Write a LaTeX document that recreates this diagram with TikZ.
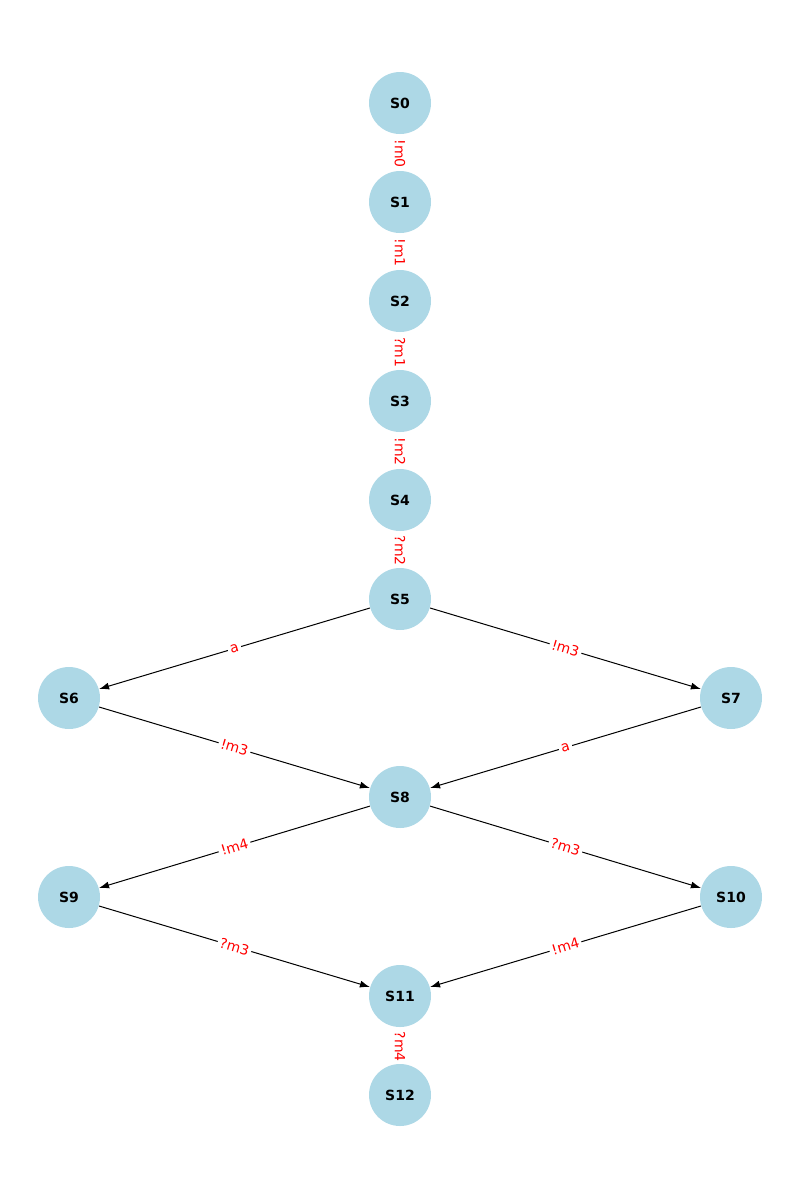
\documentclass[tikz,border=0pt]{standalone}
\usepackage{fontspec}
\setmainfont{DejaVu Sans}
\usetikzlibrary{arrows.meta,backgrounds}
\definecolor{lblue}{HTML}{ADD8E6}
\tikzset{
  state/.style={circle,fill=lblue,minimum size=31pt,inner sep=0pt,font=\fontsize{7}{8}\selectfont\bfseries},
  edge/.style={draw=black,line width=0.5pt,-{Latex[length=5pt,width=3.5pt]}},
  elab/.style={fill=white,inner sep=1.2pt,text=red,font=\fontsize{7}{8}\selectfont},
  vlab/.style={elab,rotate=-90,inner xsep=5pt,inner ysep=2pt,xshift=0.6pt},
}
\begin{document}
\begin{tikzpicture}[x=0.5pt,y=-0.5pt]
\useasboundingbox (0,0) rectangle (800,1200);
\node[state] (S0) at (400,103) {S0};
\node[state] (S1) at (400,202) {S1};
\node[state] (S2) at (400,301) {S2};
\node[state] (S3) at (400,401) {S3};
\node[state] (S4) at (400,500) {S4};
\node[state] (S5) at (400,599) {S5};
\node[state] (S6) at (69,698) {S6};
\node[state] (S7) at (731,698) {S7};
\node[state] (S8) at (400,797) {S8};
\node[state] (S9) at (69,897) {S9};
\node[state] (S10) at (731,897) {S10};
\node[state] (S11) at (400,996) {S11};
\node[state] (S12) at (400,1095) {S12};
\begin{scope}[on background layer]
\draw[edge] (S0) -- node[vlab] {!m0} (S1);
\draw[edge] (S1) -- node[vlab] {!m1} (S2);
\draw[edge] (S2) -- node[vlab] {?m1} (S3);
\draw[edge] (S3) -- node[vlab] {!m2} (S4);
\draw[edge] (S4) -- node[vlab] {?m2} (S5);
\draw[edge] (S5) -- node[elab,sloped] {a} (S6);
\draw[edge] (S5) -- node[elab,sloped] {!m3} (S7);
\draw[edge] (S6) -- node[elab,sloped] {!m3} (S8);
\draw[edge] (S7) -- node[elab,sloped] {a} (S8);
\draw[edge] (S8) -- node[elab,sloped] {!m4} (S9);
\draw[edge] (S8) -- node[elab,sloped] {?m3} (S10);
\draw[edge] (S9) -- node[elab,sloped] {?m3} (S11);
\draw[edge] (S10) -- node[elab,sloped] {!m4} (S11);
\draw[edge] (S11) -- node[vlab] {?m4} (S12);
\end{scope}
\end{tikzpicture}
\end{document}
